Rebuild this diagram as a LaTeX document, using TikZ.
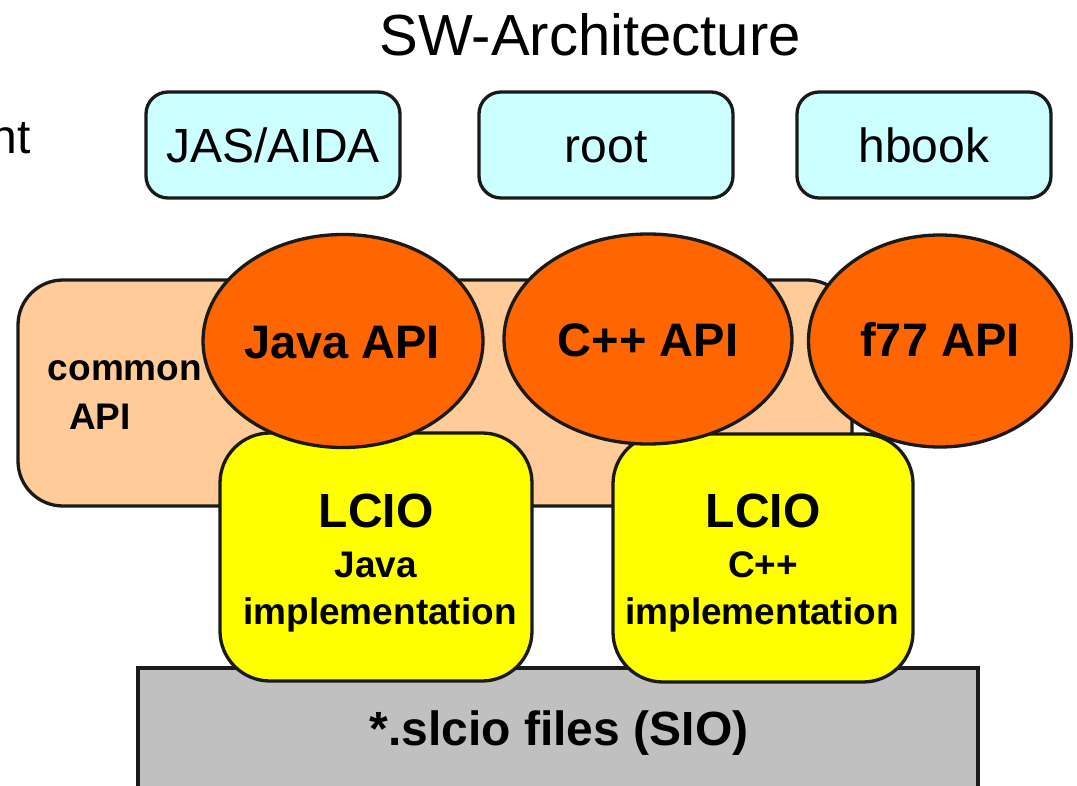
\documentclass[tikz,border=0pt]{standalone}
\usepackage{fontspec}
\setmainfont{Liberation Sans}
\usetikzlibrary{shapes.geometric}
\definecolor{cyanbox}{HTML}{CCFFFF}
\definecolor{peach}{HTML}{FFCC99}
\definecolor{apiorange}{HTML}{FF6600}
\definecolor{lcioyellow}{HTML}{FFFF00}
\definecolor{filegray}{HTML}{C0C0C0}
\definecolor{edge}{HTML}{1A1A1A}
\newcommand{\fs}[1]{\fontsize{#1}{#1}\selectfont}
\tikzset{
  shapebox/.style={draw=edge, line width=3.3pt, inner sep=0pt, outer sep=0pt},
  topbox/.style={shapebox, fill=cyanbox, rounded corners=22pt, minimum width=254pt, minimum height=106pt},
  lciobox/.style={shapebox, fill=lcioyellow, rounded corners=50pt, minimum height=248pt},
  apiell/.style={shapebox, ellipse, fill=apiorange},
  txt/.style={inner sep=0pt, outer sep=0pt, anchor=base},
  reg/.style={txt, font=\fs{48}},
  bld/.style={txt, font=\fs{48}\bfseries},
  bldsm/.style={txt, font=\fs{37}\bfseries},
  apitxt/.style={txt, font=\fs{47}\bfseries},
}
\begin{document}
\begin{tikzpicture}[x=1pt,y=-1pt]
\useasboundingbox (0,0) rectangle (1077,785);
\clip (0,0) rectangle (1077,785);
% bottom file layer
\node[shapebox, fill=filegray, minimum width=840pt, minimum height=140pt, anchor=north west] (files) at (138,668) {};
% common API layer
\node[shapebox, fill=peach, rounded corners=45pt, minimum width=834pt, minimum height=226pt, anchor=north west] (common) at (18,280) {};
% LCIO implementations
\node[lciobox, minimum width=312pt, anchor=north west] (lciojava) at (220,433) {};
\node[lciobox, minimum width=300pt, anchor=north west] (lciocpp) at (613,434) {};
% API ellipses
\node[apiell, minimum width=280pt, minimum height=213pt] (javaapi) at (343,341) {};
\node[apiell, minimum width=288pt, minimum height=210pt] (cppapi) at (648,339) {};
\node[apiell, minimum width=263pt, minimum height=212pt] (f77api) at (940,341) {};
% top tools
\node[topbox] (jas) at (273,145) {};
\node[topbox] (root) at (606,145) {};
\node[topbox] (hbook) at (924,145) {};
% texts
\node[txt, font=\fs{58}] (title) at (590,55) {SW-Architecture};
\node[txt, font=\fs{48}, anchor=base east] (nt) at (31,153) {nt};
\node[reg] (jast) at (273,162) {JAS/AIDA};
\node[reg] (roott) at (606,162) {root};
\node[reg] (hbookt) at (924,162) {hbook};
\node[bldsm] (commont) at (125,380) {common};
\node[bldsm] (apit) at (100,429) {API};
\node[apitxt] (javaapit) at (342,358) {Java API};
\node[apitxt] (cppapit) at (648,356) {C++ API};
\node[apitxt] (f77apit) at (940,356) {f77 API};
\node[bld] (lcio1) at (376,527) {LCIO};
\node[bldsm] (java1) at (376,577) {Java};
\node[bldsm] (impl1) at (380,624) {implementation};
\node[bld] (lcio2) at (763,527) {LCIO};
\node[bldsm] (cpp2) at (763,577) {C++};
\node[bldsm] (impl2) at (762,624) {implementation};
\node[bld] (filest) at (559,745) {*.slcio files (SIO)};
\end{tikzpicture}
\end{document}
